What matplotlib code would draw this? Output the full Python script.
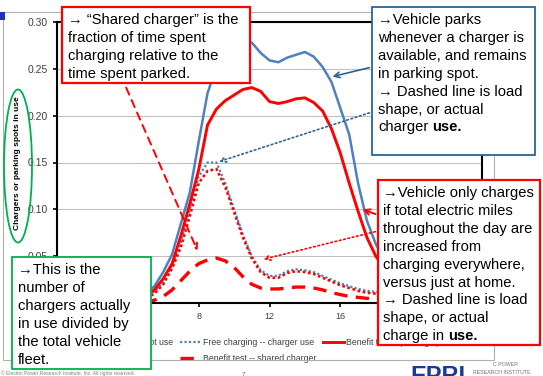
import numpy as np
import matplotlib.pyplot as plt
from matplotlib.patches import Rectangle, Ellipse

# Hour of day (half-hour steps)
hours = np.arange(0, 24.5, 0.5)

free_parking = [0.008, 0.007, 0.006, 0.006, 0.005, 0.005, 0.005, 0.005, 0.006, 0.007,
                0.010, 0.018, 0.033, 0.052, 0.085, 0.118, 0.172, 0.224, 0.252, 0.268,
                0.277, 0.281, 0.278, 0.267, 0.259, 0.257, 0.262, 0.265, 0.268, 0.263,
                0.252, 0.236, 0.208, 0.180, 0.128, 0.088, 0.063, 0.046, 0.036, 0.029,
                0.024, 0.020, 0.017, 0.015, 0.013, 0.011, 0.010, 0.009, 0.008]
free_charger = [0.004, 0.003, 0.003, 0.002, 0.002, 0.002, 0.002, 0.002, 0.003, 0.004,
                0.006, 0.012, 0.022, 0.040, 0.065, 0.100, 0.135, 0.150, 0.150, 0.128,
                0.100, 0.073, 0.050, 0.035, 0.029, 0.029, 0.034, 0.036, 0.035, 0.033,
                0.029, 0.025, 0.021, 0.018, 0.015, 0.013, 0.012, 0.010, 0.009, 0.008,
                0.007, 0.006, 0.006, 0.005, 0.005, 0.005, 0.004, 0.004, 0.004]
benefit_parking = [0.006, 0.005, 0.005, 0.004, 0.004, 0.004, 0.004, 0.004, 0.005, 0.006,
                   0.008, 0.014, 0.026, 0.042, 0.072, 0.106, 0.142, 0.190, 0.207, 0.216,
                   0.222, 0.228, 0.230, 0.226, 0.215, 0.213, 0.215, 0.218, 0.219, 0.214,
                   0.205, 0.186, 0.160, 0.128, 0.098, 0.070, 0.050, 0.037, 0.028, 0.022,
                   0.018, 0.015, 0.013, 0.011, 0.010, 0.009, 0.008, 0.007, 0.006]
benefit_charger = [0.003, 0.003, 0.002, 0.002, 0.002, 0.002, 0.002, 0.002, 0.002, 0.003,
                   0.005, 0.010, 0.020, 0.037, 0.060, 0.093, 0.128, 0.141, 0.143, 0.124,
                   0.097, 0.070, 0.048, 0.033, 0.027, 0.027, 0.032, 0.034, 0.033, 0.031,
                   0.027, 0.023, 0.019, 0.016, 0.013, 0.011, 0.010, 0.009, 0.008, 0.007,
                   0.006, 0.005, 0.005, 0.004, 0.004, 0.004, 0.003, 0.003, 0.003]
benefit_shared = [0.001, 0.001, 0.001, 0.001, 0.001, 0.001, 0.001, 0.001, 0.001, 0.001,
                  0.001, 0.003, 0.007, 0.014, 0.024, 0.034, 0.042, 0.046, 0.048, 0.045,
                  0.038, 0.028, 0.020, 0.016, 0.015, 0.015, 0.016, 0.017, 0.017, 0.016,
                  0.014, 0.011, 0.009, 0.007, 0.006, 0.005, 0.004, 0.003, 0.002, 0.002,
                  0.002, 0.002, 0.001, 0.001, 0.001, 0.001, 0.001, 0.001, 0.001]

x_ticks = [0, 4, 8, 12, 16, 20, 24]
y_ticks = [0.00, 0.05, 0.10, 0.15, 0.20, 0.25, 0.30]

BLUE = '#4f81bd'
RED = '#ff0000'
DARKBLUE = '#2a6496'
GREEN = '#00b050'
FONT = ['Liberation Sans', 'DejaVu Sans']

W, H = 543, 376
def fx(px):
    return px / W
def fy(py):
    return 1 - py / H

fig = plt.figure(figsize=(W / 100, H / 100), dpi=100)
fig.patch.set_facecolor('white')
ax = fig.add_axes([fx(57), fy(303), fx(482) - fx(57), fy(22) - fy(303)])

l1, = ax.plot(hours, free_parking, color=BLUE, lw=1.8, label='Free charging -- parking spot use')
l2, = ax.plot(hours, free_charger, color=BLUE, lw=1.6, ls=(0, (1, 1)), label='Free charging -- charger use')
l3, = ax.plot(hours, benefit_parking, color=RED, lw=2.1, label='Benefit test -- parking spot use')
l4, = ax.plot(hours, benefit_charger, color=RED, lw=1.9, ls=(0, (1, 1)), label='Benefit test -- charger use')
l5, = ax.plot(hours, benefit_shared, color=RED, lw=2.4, ls=(0, (4, 2.5)), label='Benefit test -- shared charger')

ax.set_xlim(0, 24)
ax.set_ylim(0, 0.30)
ax.set_xticks(x_ticks)
ax.set_yticks(y_ticks)
ax.set_yticklabels([f'{v:.2f}' for v in y_ticks], fontsize=7.5, color='#404040', family=FONT)
ax.set_xticklabels([str(v) for v in x_ticks], fontsize=6.5, color='#404040', family=FONT)
ax.tick_params(length=3, width=1.2, color='black')
ax.yaxis.grid(True, color='#c0c0c0', lw=0.8)
ax.set_axisbelow(True)
for s in ax.spines.values():
    s.set_linewidth(1.5)
    s.set_color('black')

ax.legend(handles=[l1, l4, l2, l5, l3], ncol=3, loc='upper left',
          bbox_to_anchor=(fx(17), fy(334)), bbox_transform=fig.transFigure,
          frameon=False, prop={'family': FONT, 'size': 6.3}, handlelength=2.3,
          handletextpad=0.3, columnspacing=0.8, labelspacing=0.75, borderpad=0)
for t in ax.get_legend().get_texts():
    t.set_color('#404040')

# y label in green ellipse
fig.text(fx(18), fy(163), 'Chargers or parking spots in use', rotation=90, ha='center', va='center',
         fontsize=6, fontweight='bold', family=FONT)
fig.add_artist(Ellipse((fx(18), fy(166)), 28 / W, 153 / H, transform=fig.transFigure,
                       fill=False, ec=GREEN, lw=1.3))

# chart frame and slide bits
fig.add_artist(Rectangle((fx(3), fy(360)), (494 - 3) / W, (360 - 12) / H, transform=fig.transFigure,
                         fill=False, ec='#b0b0b0', lw=0.8, zorder=0.5))
fig.add_artist(Rectangle((0, fy(20)), 5 / W, 8 / H, transform=fig.transFigure, fc='#2030c0', ec='none'))
fig.text(fx(1), fy(373), '\u00a9 Electric Power Research Institute, Inc. All rights reserved.',
         fontsize=3.6, color='#808080', va='center', family=FONT)
fig.text(fx(242), fy(374), '7', fontsize=4.5, color='#606060', va='center', family=FONT)
fig.text(fx(410), fy(365), 'EPRI', fontsize=17, fontweight='bold', color='#1a3a9a', va='top', family=FONT)
fig.text(fx(493), fy(364), 'C POWER', fontsize=3.8, color='#707070', va='center', family=FONT)
fig.text(fx(473), fy(372), 'RESEARCH INSTITUTE', fontsize=3.8, color='#707070', va='center', family=FONT)

# arrows
ax.annotate('', xy=(9.0, 0.150), xytext=(fx(372), fy(112)), textcoords='figure fraction',
            arrowprops=dict(arrowstyle='->', color=DARKBLUE, lw=1.2, ls=':'))
ax.annotate('', xy=(15.4, 0.241), xytext=(fx(372), fy(67)), textcoords='figure fraction',
            arrowprops=dict(arrowstyle='->', color=DARKBLUE, lw=1.2))
ax.annotate('', xy=(17.1, 0.101), xytext=(fx(378), fy(215)), textcoords='figure fraction',
            arrowprops=dict(arrowstyle='->', color=RED, lw=1.4))
ax.annotate('', xy=(11.5, 0.046), xytext=(fx(378), fy(231)), textcoords='figure fraction',
            arrowprops=dict(arrowstyle='->', color=RED, lw=1.2, ls=':'))
ax.annotate('', xy=(8.0, 0.053), xytext=(fx(125), fy(85)), textcoords='figure fraction',
            arrowprops=dict(arrowstyle='->', color=RED, lw=1.4, ls=(0, (4, 3))))

# text boxes
renderer = fig.canvas.get_renderer()

def box(x0, y0, x1, y1, ec, lw, lines, tx, ty0, step=17.9, bold_last=None):
    fig.add_artist(Rectangle((fx(x0), fy(y1)), (x1 - x0) / W, (y1 - y0) / H,
                             transform=fig.transFigure, fc='white', ec=ec, lw=lw, zorder=2))
    for i, line in enumerate(lines):
        t = fig.text(fx(tx), fy(ty0 + i * step), line, fontsize=10.6, va='center', family=FONT)
        if bold_last is not None and i == len(lines) - 1:
            bb = t.get_window_extent(renderer=renderer)
            fig.text(fx(tx + bb.width + 4), fy(ty0 + i * step), bold_last, fontsize=10.6,
                     fontweight='bold', va='center', family=FONT)

box(62, 7, 250, 83, RED, 1.6,
    ['\u2192 \u201cShared charger\u201d is the', 'fraction of time spent',
     'charging relative to the', 'time spent parked.'], 68, 20)
box(372, 7, 535, 155, DARKBLUE, 1.3,
    ['\u2192Vehicle parks', 'whenever a charger is', 'available, and remains',
     'in parking spot.', '\u2192 Dashed line is load', 'shape, or actual', 'charger'],
    378, 20, bold_last='use.')
box(378, 180, 540, 345, RED, 1.6,
    ['\u2192Vehicle only charges', 'if total electric miles', 'throughout the day are',
     'increased from', 'charging everywhere,', 'versus just at home.',
     '\u2192 Dashed line is load', 'shape, or actual', 'charge in'],
    383, 193, bold_last='use.')
box(12, 257, 151, 369, GREEN, 1.3,
    ['\u2192This is the', 'number of', 'chargers actually', 'in use divided by',
     'the total vehicle', 'fleet.'], 18, 270)

fig.savefig('out.png', dpi=100)
